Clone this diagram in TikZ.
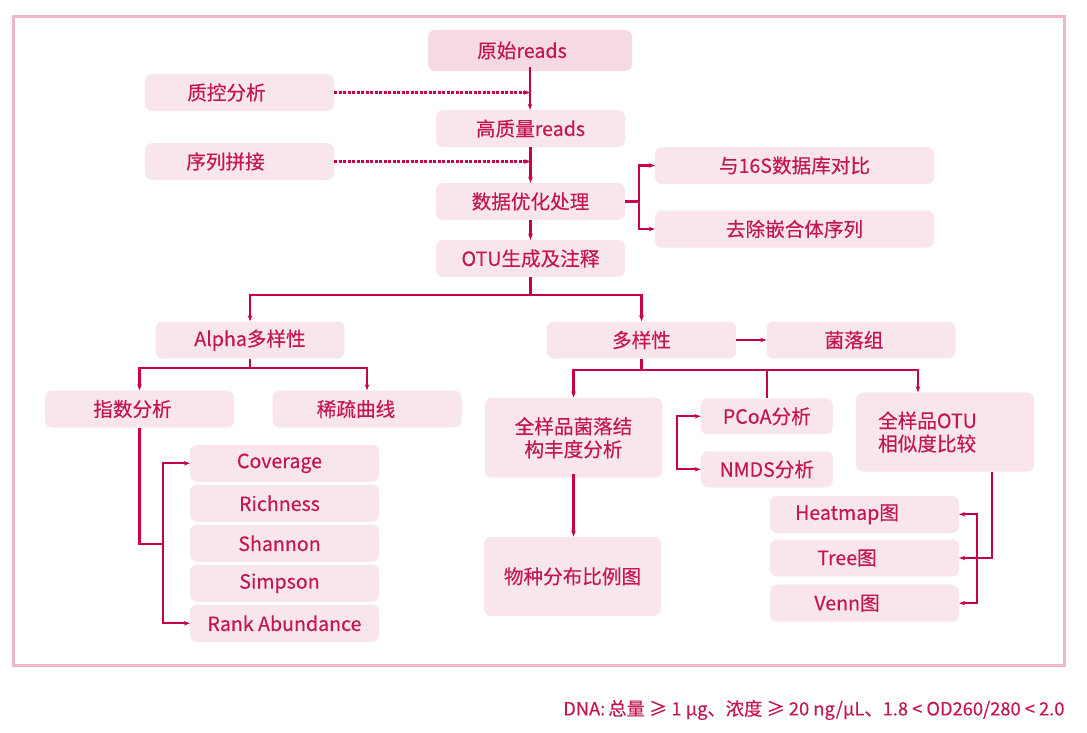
\documentclass[tikz,border=0pt]{standalone}
\usepackage{fontspec}
\setmainfont{Noto Sans CJK SC}[FakeBold=0.3]
\usepackage{xcolor}
\usepackage{tikz}
\usetikzlibrary{arrows.meta, positioning, calc}

\definecolor{framepink}{HTML}{F0B6CA}
\definecolor{boxpink}{HTML}{F8E6EC}
\definecolor{rawpink}{HTML}{F5DAE3}
\definecolor{inkred}{HTML}{C4164F}
\definecolor{linered}{HTML}{C8004B}

\begin{document}
\begin{tikzpicture}[x=1pt, y=-1pt,
    box/.style={fill=boxpink, rounded corners=7pt, text=inkred, inner sep=0pt,
        font=\fontsize{19.6}{23}\selectfont, minimum width=189pt, minimum height=37pt},
    lshift/.style={execute at end node={\hspace*{#1}}},
    link/.style={draw=linered, line width=2.1pt},
    arr/.style={link, -{Stealth[length=6pt, width=4.5pt]}},
    dblarr/.style={link, {Stealth[length=6pt, width=4.5pt]}-{Stealth[length=6pt, width=4.5pt]}},
    dasharr/.style={arr, dash pattern=on 3pt off 1.5pt}]
    \useasboundingbox (0,0) rectangle (1087,733);

    % 外框
    \draw[framepink, line width=3.3pt] (13.3,16.5) rectangle (1064.7,665.5);

    % 主流程
    \node[box, fill=rawpink, minimum width=204pt, minimum height=41pt, lshift=16pt] (raw) at (530,50.5) {原始reads};
    \node[box, lshift=26pt] (qc) at (239.5,92.5) {质控分析};
    \node[box] (hq) at (530.5,128.5) {高质量reads};
    \node[box, lshift=28pt] (merge) at (239.5,161.5) {序列拼接};
    \node[box] (opt) at (530.5,201.5) {数据优化处理};
    \node[box] (otu) at (530.5,258.5) {OTU生成及注释};
    \node[box, minimum width=279pt] (db) at (794.5,165.5) {与16S数据库对比};
    \node[box, minimum width=279pt] (chim) at (794.5,229) {去除嵌合体序列};

    % Alpha 多样性分支
    \node[box] (alpha) at (250,340) {Alpha多样性};
    \node[box, lshift=14pt] (idx) at (139.5,409) {指数分析};
    \node[box, lshift=22pt] (rare) at (367,409) {稀疏曲线};
    \node[box, lshift=10pt] (cov) at (284.5,463.3) {Coverage};
    \node[box, lshift=10pt] (rich) at (284.5,503.3) {Richness};
    \node[box, lshift=10pt] (shan) at (284.5,543.3) {Shannon};
    \node[box, lshift=10pt] (simp) at (284.5,583.3) {Simpson};
    \node[box] (rank) at (284.5,623.3) {Rank Abundance};

    % 多样性分支
    \node[box] (div) at (641.5,340) {多样性};
    \node[box, lshift=14pt] (comm) at (861,340) {菌落组};
    \node[box, align=center, minimum width=177pt, minimum height=80pt] (struct) at (573.5,437.7) {全样品菌落结\\构丰度分析};
    \node[box, minimum width=177pt, minimum height=79pt] (species) at (572.5,576.3) {物种分布比例图};
    \node[box, minimum width=132pt, minimum height=36pt] (pcoa) at (766.8,416.3) {PCoA分析};
    \node[box, minimum width=132pt, minimum height=36pt] (nmds) at (766.8,469.3) {NMDS分析};
    \node[box, align=left, minimum width=178pt, minimum height=79pt] (otusim) at (945,432) {全样品OTU\hspace*{35pt}\\相似度比较};
    \node[box, lshift=35pt] (heat) at (864.5,514.3) {Heatmap图};
    \node[box, lshift=35pt] (tree) at (864.5,558) {Tree图};
    \node[box, lshift=35pt] (venn) at (864.5,603.2) {Venn图};

    % 连线
    \draw[arr] ([yshift=4pt]raw.south) -- (hq.north -| raw.south);
    \draw[dasharr] (qc.east) -- (qc.east -| raw.south);
    \draw[arr] (hq.south) -- (opt.north);
    \draw[dasharr] (merge.east) -- (merge.east -| hq.south);
    \draw[arr] (opt.south) -- (otu.north);
    \draw[link] (opt.east) -- ++(13.7,0) coordinate (optfork);
    \draw[arr] (optfork) |- (db.west);
    \draw[arr] (optfork) |- (chim.west);

    \draw[arr] (otu.south) -- ++(0,18) -| (alpha.north);
    \draw[arr] (otu.south) -- ++(0,18) -| (div.north);

    \draw[arr] (alpha.south) -- ++(0,9.5) -| (idx.north);
    \draw[arr] (alpha.south) -- ++(0,9.5) -| (rare.north);
    \coordinate (idxfork) at (162.7,543.7);
    \draw[link] (idx.south) |- (idxfork);
    \draw[arr] (idxfork) |- (cov.west);
    \draw[arr] (idxfork) |- (rank.west);

    \draw[arr] (div.east) -- (comm.west);
    \draw[arr] (div.south) -- ++(0,11) -| (struct.north);
    \draw[arr] (div.south) -- ++(0,11) -| ([xshift=-27pt]otusim.north);
    \draw[link] (div.south) -- ++(0,11) -| (pcoa.north);
    \draw[arr] ([yshift=4pt]struct.south) -- (species.north -| struct.south);
    \draw[dblarr] (pcoa.west) -- ++(-24,0) |- (nmds.west);

    \draw[arr] ([xshift=47pt]otusim.south) |- (tree.east);
    \draw[dblarr] (heat.east) -- ++(17.7,0) |- (venn.east);

    % 备注
    \node[anchor=east, text=inkred, font=\fontsize{18.3}{21}\selectfont] (note) at (1068,710)
        {DNA:\,总量 ≥ 1 μg、浓度 ≥ 20 ng/μL、1.8 < OD260/280 < 2.0};
\end{tikzpicture}
\end{document}
